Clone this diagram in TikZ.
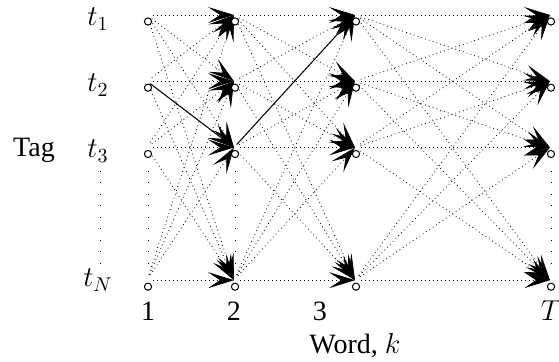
\documentclass[tikz,border=0pt]{standalone}
\usepackage{fontspec}
\setmainfont{Liberation Serif}
\usetikzlibrary{arrows.meta}
\begin{document}
\begin{tikzpicture}[x=0.5pt,y=-0.5pt,
  trans/.style={line width=0.4pt, dash pattern=on 0.4pt off 1.6pt,
    -{Stealth[length=13pt,width=8pt,inset=6pt]}, shorten <=3pt},
  best/.style={line width=0.5pt,
    -{Stealth[length=13pt,width=8pt,inset=6pt]}, shorten <=2pt},
  state/.style={circle, draw, fill=white, inner sep=0pt,
    minimum size=3.6pt, line width=0.5pt},
  gapdots/.style={line width=0.45pt, dash pattern=on 0.45pt off 5.3pt},
  lbl/.style={font=\fontsize{14}{16}\selectfont, inner sep=0pt}
]
\useasboundingbox (0,0) rectangle (559,362);

% end points of the transitions, slightly above each state
\foreach \c/\x in {1/148,2/235,3/356,4/551}
  \foreach \r/\y in {1/21.5,2/87.7,3/154,4/286.7}
    \coordinate (e-\c-\r) at (\x-1,\y-6.5);

% vertical dots between t_3 and t_N
\foreach \x in {100,148,235,551}
  \draw[gapdots] (\x,171) -- (\x,268);

% all transitions between neighbouring columns
\foreach \c [evaluate=\c as \n using int(\c+1)] in {1,2,3}
  \foreach \i in {1,...,4}
    \foreach \j in {1,...,4}
      \draw[trans] (e-\c-\i) -- (e-\n-\j);

% highlighted path
\draw[best] (e-1-2) -- (e-2-3);
\draw[best] (e-2-3) -- (e-3-1);

% states
\foreach \c/\x in {1/148,2/235,3/356,4/551}
  \foreach \r/\y in {1/21.5,2/87.7,3/154,4/286.7}
    \node[state] (s-\c-\r) at (\x,\y) {};

% tag labels
\node[lbl] (t1) at (98,19) {$t_1$};
\node[lbl] (t2) at (98,85) {$t_2$};
\node[lbl] (t3) at (98,151) {$t_3$};
\node[lbl] (tN) at (98,280) {$t_N$};
\node[lbl] (tag) at (34,150) {Tag};

% word labels
\node[lbl] (w1) at (148,311) {1};
\node[lbl] (w2) at (234,311) {2};
\node[lbl] (w3) at (320,311) {3};
\node[lbl] (wT) at (551,311) {$T$};
\node[lbl] (word) at (355,346) {Word, $k$};
\end{tikzpicture}
\end{document}
